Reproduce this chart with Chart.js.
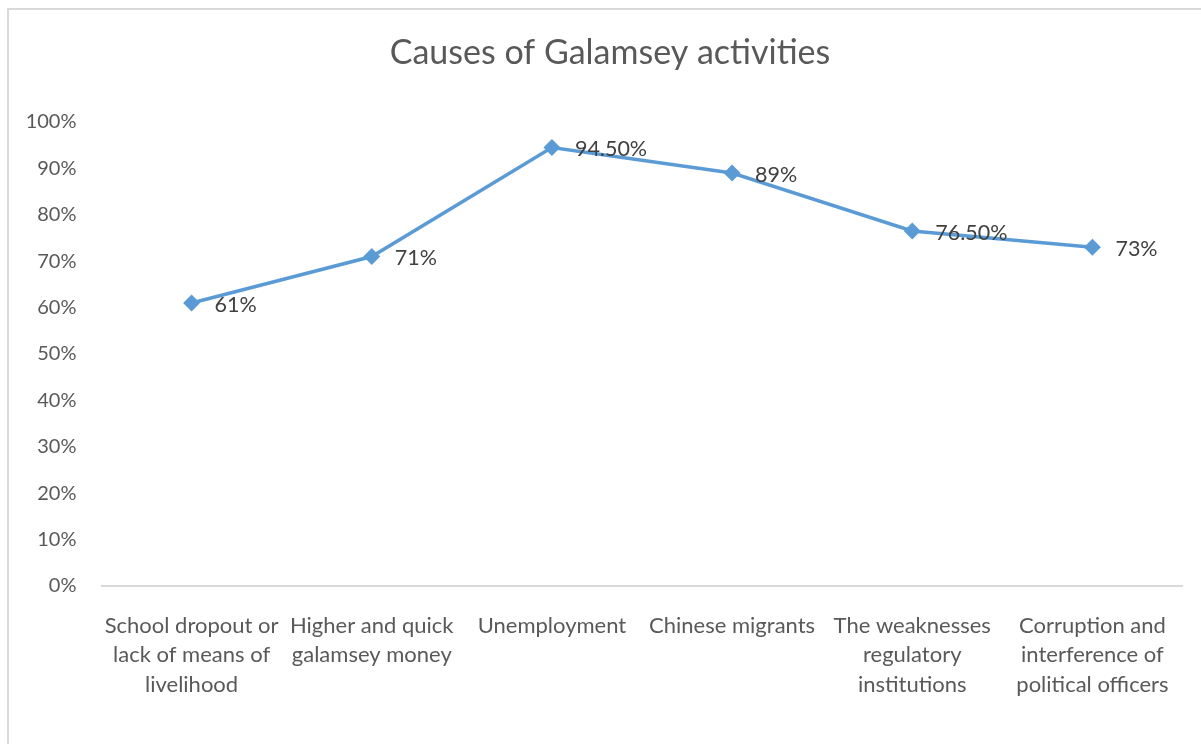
<!DOCTYPE html>
<html>
<head>
<meta charset="utf-8">
<title>Causes of Galamsey activities</title>
<script src="https://cdn.jsdelivr.net/npm/chart.js@4/dist/chart.umd.min.js"></script>
<style>
    html, body { margin: 0; padding: 0; background: #fff; overflow: hidden; }
    #frame {
        position: absolute; left: 7px; top: 8px;
        width: 1300px; height: 900px;
        border-left: 2px solid #D9D9D9; border-top: 2px solid #D9D9D9;
    }
    #wrap { position: absolute; left: 0; top: 0; width: 1201px; height: 744px; }
</style>
</head>
<body>
<div id="frame"></div>
<div id="wrap"><canvas id="chart-causes"></canvas></div>
<script>

// chart data
var chartTitle = "Causes of Galamsey activities";
var categories = [
    ["School dropout or", "lack of means of", "livelihood"],
    ["Higher and quick", "galamsey money"],
    ["Unemployment"],
    ["Chinese migrants"],
    ["The weaknesses", "regulatory", "institutions"],
    ["Corruption and", "interference of", "political officers"]
];
var percentages = [61, 71, 94.5, 89, 76.5, 73];
var yTicks = [0, 10, 20, 30, 40, 50, 60, 70, 80, 90, 100];

var fontFamily = "Lato, 'Open Sans', sans-serif";

function fmtPct(v) {
    return Number.isInteger(v) ? v + "%" : v.toFixed(2) + "%";
}

// title centred on the whole frame (Excel style), not on the plot boxes
var frameTitle = {
    id: 'frameTitle',
    afterDraw: function (chart) {
        var ctx = chart.ctx;
        ctx.save();
        ctx.font = "34px " + fontFamily;
        ctx.fillStyle = "#595959";
        ctx.textAlign = "center";
        ctx.textBaseline = "middle";
        ctx.fillText(chartTitle, 610, 53);
        ctx.restore();
    }
};

// labels to the right of each point, like Excel's "Right" position
var pointLabels = {
    id: 'pointLabels',
    afterDatasetsDraw: function (chart) {
        var ctx = chart.ctx;
        var meta = chart.getDatasetMeta(0);
        ctx.save();
        ctx.font = "21.5px " + fontFamily;
        ctx.fillStyle = "#404040";
        ctx.textAlign = "left";
        ctx.textBaseline = "middle";
        meta.data.forEach(function (pt, i) {
            ctx.fillText(fmtPct(percentages[i]), pt.x + 23, pt.y + 2);
        });
        ctx.restore();
    }
};

new Chart('chart-causes', {
    type: 'line',
    plugins: [pointLabels, frameTitle],
    data: {
        labels: categories,
        datasets: [{
            label: "Causes",
            data: percentages,
            borderColor: "#5B9BD5",
            backgroundColor: "#5B9BD5",
            borderWidth: 3.5,
            pointStyle: 'rectRot',
            pointRadius: 6,
            pointHoverRadius: 6,
            tension: 0,
            fill: false
        }]
    },
    options: {
        responsive: true,
        maintainAspectRatio: false,
        animation: false,
        layout: { padding: { left: 0, right: 18.5, top: 122, bottom: 0 } },
        plugins: {
            legend: { display: false },
            tooltip: { enabled: false },
            title: { display: false }
        },
        scales: {
            y: {
                min: 0,
                max: 100,
                afterFit: function (scale) { scale.width = 101.5; },
                afterBuildTicks: function (scale) {
                    scale.ticks = yTicks.map(function (v) { return { value: v }; });
                },
                grid: { display: false },
                border: { display: false },
                ticks: {
                    padding: 17,
                    color: "#595959",
                    font: { family: fontFamily, size: 20 },
                    callback: function (v) { return v + "%"; }
                }
            },
            x: {
                offset: true,
                afterFit: function (scale) { scale.height = 158; },
                grid: { display: false },
                border: { display: true, color: "#D9D9D9", width: 2 },
                ticks: {
                    padding: 17,
                    maxRotation: 0,
                    autoSkip: false,
                    color: "#595959",
                    font: { family: fontFamily, size: 22, lineHeight: 1.34 }
                }
            }
        }
    }
});

</script>
</body>
</html>
